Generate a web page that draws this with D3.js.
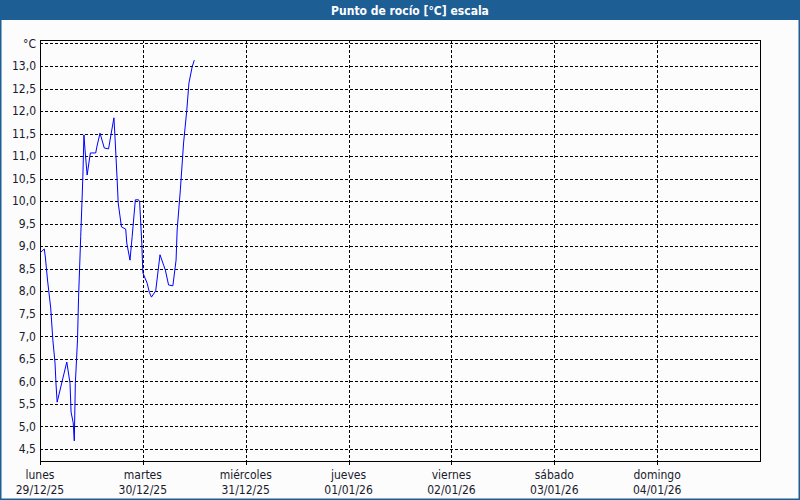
<!DOCTYPE html>
<html>
<head>
<meta charset="utf-8">
<script src="https://cdn.jsdelivr.net/npm/d3@7/dist/d3.min.js"></script>
<style>
	body { margin: 0; background: #ffffff; }
	svg { display: block; }
</style>
</head>
<body>
<div id="graph"></div>
<script>
(function(){
	"use strict";

	//hours after monday 29/12/25 00:00 and the dew point read at each of them
	var hours = [0, 1, 1.25, 1.75, 2.5, 3, 3.5, 3.75, 4, 6.25, 7, 7.25, 7.75, 8, 8.25, 8.75, 9, 9.5, 9.75,
		10, 10.25, 10.5, 11, 11.75, 13, 13.25, 14, 15, 16, 16.75, 17.25, 17.5, 18, 18.25, 19, 20, 20.25,
		21, 21.5, 22.25, 23, 23.25, 23.75, 24, 25, 25.5, 26, 27, 28, 29.25, 30, 31, 31.75, 32, 32.75,
		33.5, 34.25, 34.75, 35.5, 36];
	var dewPoint = [8.85, 8.94, 8.76, 8.25, 7.63, 6.92, 6.41, 5.92, 5.54, 6.43, 5.96, 5.32, 5.08, 4.68, 5.96,
		6.92, 7.87, 9.21, 9.87, 10.54, 11.47, 11.14, 10.58, 11.07, 11.07, 11.2, 11.51, 11.18, 11.16, 11.58,
		11.85, 11.42, 10.47, 9.96, 9.43, 9.38, 9.07, 8.69, 9.21, 10.03, 10.03, 9.98, 9.07, 8.41, 8.18, 7.98,
		7.87, 8.01, 8.81, 8.47, 8.14, 8.12, 8.69, 9.36, 10.25, 11.29, 12.02, 12.62, 12.98, 13.13];

	//labels under the day ticks
	var dayNames = ["lunes", "martes", "miércoles", "jueves", "viernes", "sábado", "domingo"];
	var dayDates = ["29/12/25", "30/12/25", "31/12/25", "01/01/26", "02/01/26", "03/01/26", "04/01/26"];
	var yTicks = [4.5, 5, 5.5, 6, 6.5, 7, 7.5, 8, 8.5, 9, 9.5, 10, 10.5, 11, 11.5, 12, 12.5, 13, 13.5];

	var W = 800, H = 500;
	var margin = {top: 40, right: 40, bottom: 39, left: 40};
	var font = "Tahoma, 'DejaVu Sans Condensed', sans-serif";
	var blue = "#1d5e95";

	var start = Date.UTC(2025, 11, 29);
	var end = Date.UTC(2026, 0, 5);

	var svg = d3.select("#graph").append("svg")
		.attr("width", W)
		.attr("height", H);

	//page background and the blue frame
	svg.append("rect")
		.attr("width", W).attr("height", H)
		.attr("fill", "#fbfcfb");
	svg.append("rect")
		.attr("x", 0.5).attr("y", 0.5)
		.attr("width", W - 1).attr("height", H - 1)
		.attr("fill", "none")
		.attr("stroke", blue)
		.attr("stroke-width", 2);
	svg.append("rect")
		.attr("width", W).attr("height", 20)
		.attr("fill", blue);
	svg.append("text")
		.attr("x", 410)
		.attr("y", 14.5)
		.attr("text-anchor", "middle")
		.attr("fill", "#ffffff")
		.style("font", "bold 12px " + font)
		.text("Punto de rocío [°C] escala");

	var x = d3.scaleUtc()
		.domain([start, end])
		.range([margin.left, W - margin.right]);

	var y = d3.scaleLinear()
		.domain([4.233, 13.577])
		.range([H - margin.bottom, margin.top]);

	function crisp(v) { return Math.round(v) + 0.5; }

	var days = d3.utcDay.range(start, end);

	//dashed grid
	var grid = svg.append("g")
		.attr("stroke", "#000")
		.attr("stroke-dasharray", "3,2")
		.attr("shape-rendering", "crispEdges");

	grid.selectAll(".hgrid")
		.data(yTicks)
		.enter().append("line")
		.attr("class", "hgrid")
		.attr("x1", margin.left)
		.attr("x2", W - margin.right)
		.attr("y1", function(d) { return crisp(y(d)); })
		.attr("y2", function(d) { return crisp(y(d)); });

	grid.selectAll(".vgrid")
		.data(days.slice(1))
		.enter().append("line")
		.attr("class", "vgrid")
		.attr("x1", function(d) { return crisp(x(d)); })
		.attr("x2", function(d) { return crisp(x(d)); })
		.attr("y1", margin.top)
		.attr("y2", H - margin.bottom);

	//plot box
	svg.append("rect")
		.attr("x", margin.left + 0.5)
		.attr("y", margin.top + 0.5)
		.attr("width", W - margin.left - margin.right)
		.attr("height", H - margin.top - margin.bottom)
		.attr("fill", "none")
		.attr("stroke", "#000")
		.attr("shape-rendering", "crispEdges");

	//day ticks below the axis
	svg.selectAll(".dtick")
		.data(days)
		.enter().append("line")
		.attr("class", "dtick")
		.attr("x1", function(d) { return crisp(x(d)); })
		.attr("x2", function(d) { return crisp(x(d)); })
		.attr("y1", H - margin.bottom)
		.attr("y2", H - margin.bottom + 4)
		.attr("stroke", "#000")
		.attr("shape-rendering", "crispEdges");

	var xLabels = svg.selectAll(".xlab")
		.data(days)
		.enter().append("text")
		.attr("class", "xlab")
		.attr("text-anchor", "middle")
		.attr("fill", "#1a1a2e")
		.style("font", "12px " + font);
	xLabels.append("tspan")
		.attr("x", function(d) { return x(d); })
		.attr("y", 479)
		.text(function(d, i) { return dayNames[i]; });
	xLabels.append("tspan")
		.attr("x", function(d) { return x(d); })
		.attr("y", 494)
		.text(function(d, i) { return dayDates[i]; });

	//y labels, the top one carries the unit
	svg.selectAll(".ylab")
		.data(yTicks)
		.enter().append("text")
		.attr("class", "ylab")
		.attr("x", 36)
		.attr("y", function(d) { return y(d); })
		.attr("dy", "0.35em")
		.attr("text-anchor", "end")
		.attr("fill", "#1a1a2e")
		.style("font", "12px " + font)
		.text(function(d) {
			if (d === 13.5) return "°C";
			return d3.format(".1f")(d).replace(".", ",");
		});

	//the dew point line
	var line = d3.line()
		.x(function(d) { return x(start + d * 3600000); })
		.y(function(d, i) { return y(dewPoint[i]); });

	svg.append("path")
		.datum(hours)
		.attr("d", line)
		.attr("fill", "none")
		.attr("stroke", "#0000ff")
		.attr("stroke-width", 1);

})();
</script>
</body>
</html>
